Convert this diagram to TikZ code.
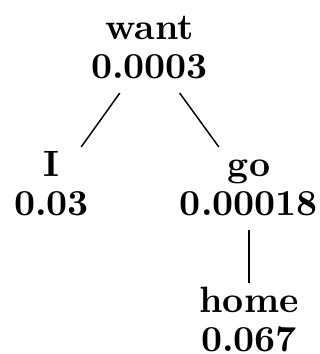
\documentclass[tikz,border=0pt]{standalone}
\newcommand\myhi{\rule{0pt}{8.2pt}}
\newcommand\mylo{\rule[-4.1pt]{0pt}{4.1pt}}
\begin{document}
\begin{tikzpicture}[x=0.273pt,y=-0.273pt,
  lbl/.style={align=center,inner sep=0pt,outer sep=0pt,font=\fontsize{10}{10.4}\selectfont\bfseries},
  conn/.style={line width=0.4pt}]
\useasboundingbox (0,0) rectangle (320,354);
\node[lbl] (want) at (149.5,51.5) {\myhi want\\0.0003\mylo};
\node[lbl] (I) at (51.5,188.5) {\myhi I\\0.03\mylo};
\node[lbl] (go) at (249,188.5) {\myhi go\\0.00018\mylo};
\node[lbl] (home) at (249,324.5) {\myhi home\\0.067\mylo};
\draw[conn] (want) -- (I);
\draw[conn] (want) -- (go);
\draw[conn] (go) -- (home);
\end{tikzpicture}
\end{document}
